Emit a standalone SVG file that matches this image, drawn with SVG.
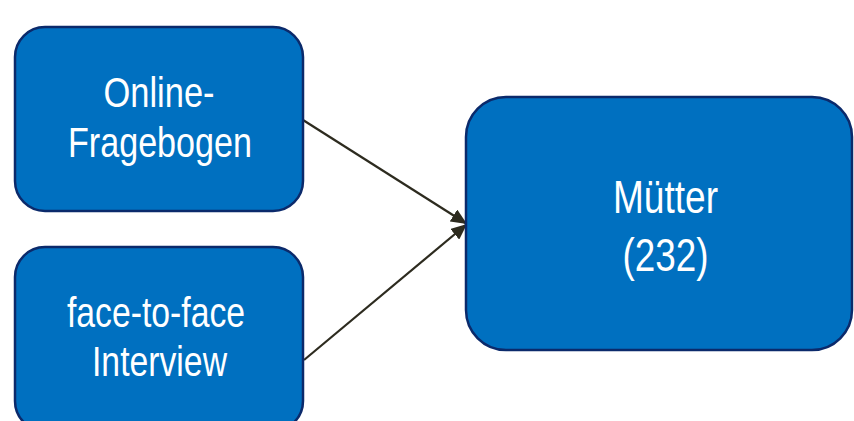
<svg xmlns="http://www.w3.org/2000/svg" width="854" height="421" viewBox="0 0 854 421">
<defs>
<style>
.box{fill:#0070C0;stroke:#0B2A6B;stroke-width:2.5}
.lbl{fill:#ffffff;font-family:"Liberation Sans",Arial,sans-serif;text-anchor:middle}
.edge{stroke:#2D2B1F;stroke-width:2.2;fill:none;marker-end:url(#ah)}
</style>
<marker id="ah" viewBox="0 0 10 10" refX="10" refY="5" markerWidth="16" markerHeight="14" markerUnits="userSpaceOnUse" orient="auto" preserveAspectRatio="none">
<path d="M0,0 L10,5 L0,10 z" fill="#2D2B1F"/>
</marker>
</defs>
<rect width="854" height="421" fill="#ffffff"/>
<g id="connectors">
<line class="edge" x1="303" y1="120" x2="467" y2="224"/>
<line class="edge" x1="304" y1="360" x2="467" y2="224"/>
</g>
<g id="online">
<rect class="box" x="15" y="27" width="288" height="184" rx="30"/>
<text class="lbl" x="159" y="107" font-size="43" textLength="111" lengthAdjust="spacingAndGlyphs">Online-</text>
<text class="lbl" x="160" y="157" font-size="43" textLength="184" lengthAdjust="spacingAndGlyphs">Fragebogen</text>
</g>
<g id="face">
<rect class="box" x="15" y="247" width="288" height="184" rx="30"/>
<text class="lbl" x="156" y="327" font-size="43" textLength="178" lengthAdjust="spacingAndGlyphs">face-to-face</text>
<text class="lbl" x="159.5" y="376" font-size="43" textLength="135" lengthAdjust="spacingAndGlyphs">Interview</text>
</g>
<g id="muetter">
<rect class="box" x="466" y="97" width="386" height="253" rx="40"/>
<text class="lbl" x="665.5" y="213" font-size="47" textLength="105" lengthAdjust="spacingAndGlyphs">Mütter</text>
<text class="lbl" x="665.5" y="271" font-size="47" textLength="86" lengthAdjust="spacingAndGlyphs">(232)</text>
</g>
</svg>
